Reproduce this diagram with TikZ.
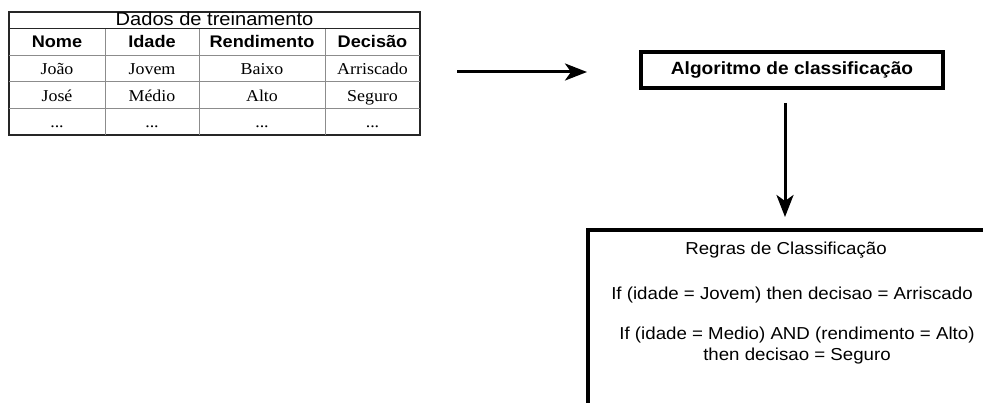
\documentclass[tikz,border=0pt]{standalone}
\usepackage{fontspec}
\usetikzlibrary{arrows.meta}
\newfontfamily\sfst[FakeStretch=1.08]{Liberation Sans}
\newfontfamily\rmst[FakeStretch=1.08]{Liberation Serif}
\begin{document}
\begin{tikzpicture}[x=1pt,y=-1pt,
  hd/.style={inner sep=0pt, anchor=base, font=\sfst\bfseries\fontsize{16.8}{19}\selectfont},
  dt/.style={inner sep=0pt, anchor=base, font=\rmst\fontsize{16.6}{19}\selectfont},
  ttl/.style={inner sep=0pt, anchor=base, font=\sfst\fontsize{18.6}{21}\selectfont},
  rule/.style={inner sep=0pt, anchor=base, align=center, font=\sfst\fontsize{17.3}{21}\selectfont},
  grid/.style={draw=black!45, line width=0.9pt},
  outer/.style={draw=black!85, line width=1.4pt},
  thickbox/.style={draw, line width=4.5pt, outer sep=0pt, inner sep=0pt},
  arr/.style={line width=3pt, -{Stealth[length=22pt,width=17pt,inset=6pt]}}]
\useasboundingbox (0,0) rectangle (983,403);
\clip (0,0) rectangle (983,403);
% table
\node[outer, outer sep=0pt, inner sep=0pt, minimum width=411pt, minimum height=123pt, anchor=north west] (tab) at (9,12) {};
\draw[grid] (9,55) -- (420,55);
\draw[grid] (9,81.7) -- (420,81.7);
\draw[grid] (9,108.3) -- (420,108.3);
\draw[grid] (105,28.5) -- (105,135);
\draw[grid] (199,28.5) -- (199,135);
\draw[grid] (325,28.5) -- (325,135);
\draw[outer, line width=1.8pt] (9,28.5) -- (420,28.5);
\node[ttl] (title) at (214.5,25.8) {Dados de treinamento};
\node[hd] (h1) at (57,48) {Nome};
\node[hd] (h2) at (152,48) {Idade};
\node[hd] (h3) at (262,48) {Rendimento};
\node[hd] (h4) at (372.5,48) {Decisão};
\node[dt] (r11) at (57,75) {João};
\node[dt] (r12) at (152,75) {Jovem};
\node[dt] (r13) at (262,75) {Baixo};
\node[dt] (r14) at (372.5,75) {Arriscado};
\node[dt] (r21) at (57,101.5) {José};
\node[dt] (r22) at (152,101.5) {Médio};
\node[dt] (r23) at (262,101.5) {Alto};
\node[dt] (r24) at (372.5,101.5) {Seguro};
\node[dt] (r31) at (57,127.5) {...};
\node[dt] (r32) at (152,127.5) {...};
\node[dt] (r33) at (262,127.5) {...};
\node[dt] (r34) at (372.5,127.5) {...};
% algorithm box
\node[thickbox, minimum width=302pt, minimum height=36pt, anchor=center,
      font=\sfst\bfseries\fontsize{17.7}{20}\selectfont] (algo) at (792,70) {Algoritmo de classificação};
% rules box
\node[thickbox, minimum width=406pt, minimum height=200pt, anchor=north west] (rules) at (588,230) {};
\node[rule] (rt) at (786,255) {Regras de Classificação};
\node[rule] (rl1) at (792,299.5) {If (idade = Jovem) then decisao = Arriscado};
\node[rule] (rl2) at (797,340) {If (idade = Medio) AND (rendimento = Alto)};
\node[rule] (rl3) at (797,361) {then decisao = Seguro};
% arrows
\coordinate (a1s) at (457,72);
\coordinate (a1e) at (587,72);
\coordinate (a2s) at (785,103);
\coordinate (a2e) at (785,217);
\draw[arr] (a1s) -- (a1e);
\draw[arr] (a2s) -- (a2e);
\end{tikzpicture}
\end{document}
